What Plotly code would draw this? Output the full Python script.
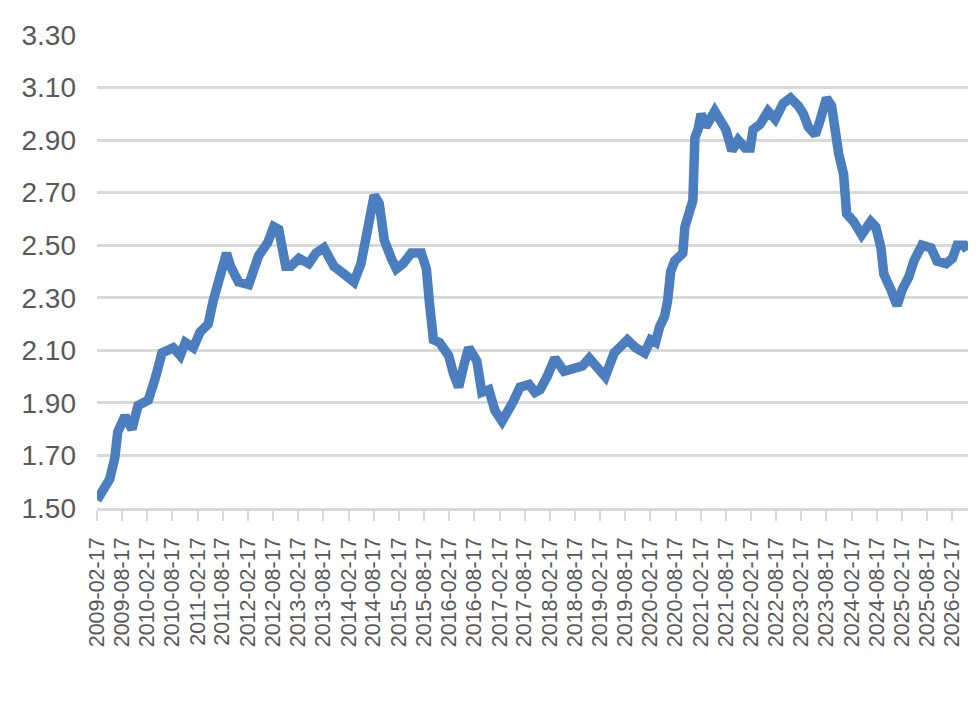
import plotly.graph_objects as go

# readings along the curve (date, value)
dates = [
    "2009-02-17", "2009-04-15", "2009-05-20", "2009-06-26", "2009-07-18", "2009-09-08",
    "2009-10-29", "2009-12-12", "2010-02-24", "2010-04-14", "2010-06-04", "2010-08-24",
    "2010-10-14", "2010-11-20", "2011-01-17", "2011-03-08", "2011-05-05", "2011-06-11",
    "2011-07-17", "2011-08-16", "2011-09-15", "2011-10-14", "2011-12-11", "2012-02-23",
    "2012-03-29", "2012-05-05", "2012-07-10", "2012-08-23", "2012-09-28", "2012-11-18",
    "2012-12-25", "2013-02-22", "2013-05-04", "2013-06-25", "2013-08-22", "2013-09-28",
    "2013-11-03", "2014-01-16", "2014-03-28", "2014-05-18", "2014-07-08", "2014-08-22",
    "2014-09-27", "2014-11-03", "2014-12-24", "2015-01-30", "2015-03-20", "2015-05-18",
    "2015-07-30", "2015-09-05", "2015-09-27", "2015-10-26", "2015-12-09", "2016-02-13",
    "2016-03-20", "2016-04-26", "2016-06-01", "2016-07-08", "2016-09-05", "2016-10-11",
    "2016-12-01", "2017-01-15", "2017-03-07", "2017-04-11", "2017-06-01", "2017-07-15",
    "2017-09-19", "2017-11-02", "2017-12-08", "2018-01-28", "2018-03-26", "2018-05-31",
    "2018-08-12", "2018-10-10", "2018-11-30", "2019-01-28", "2019-03-26", "2019-05-30",
    "2019-09-03", "2019-11-01", "2020-01-06", "2020-02-19", "2020-03-25", "2020-04-24",
    "2020-05-30", "2020-06-21", "2020-07-13", "2020-08-11", "2020-10-09", "2020-10-24",
    "2020-11-29", "2020-12-21", "2021-01-05", "2021-01-27", "2021-02-19", "2021-03-25",
    "2021-05-29", "2021-07-13", "2021-08-18", "2021-10-01", "2021-11-15", "2022-01-05",
    "2022-02-10", "2022-03-03", "2022-04-23", "2022-06-20", "2022-08-10", "2022-10-08",
    "2022-11-29", "2023-01-26", "2023-03-03", "2023-04-08", "2023-05-29", "2023-07-05",
    "2023-08-18", "2023-09-24", "2023-10-08", "2023-11-14", "2023-12-20", "2024-01-11",
    "2024-03-02", "2024-04-29", "2024-07-04", "2024-08-10", "2024-09-16", "2024-10-07",
    "2024-11-28", "2025-01-11", "2025-02-17", "2025-04-07", "2025-05-13", "2025-07-11",
    "2025-09-15", "2025-10-28", "2026-01-02", "2026-02-17", "2026-03-23", "2026-05-13",
    "2026-06-04",
]
values = [
    1.53, 1.59, 1.61, 1.69, 1.79, 1.85,
    1.80, 1.89, 1.91, 1.99, 2.09, 2.11,
    2.08, 2.13, 2.11, 2.17, 2.20, 2.29,
    2.37, 2.41, 2.47, 2.42, 2.36, 2.35,
    2.41, 2.46, 2.51, 2.57, 2.56, 2.42,
    2.42, 2.45, 2.43, 2.47, 2.49, 2.46,
    2.42, 2.39, 2.36, 2.43, 2.57, 2.69,
    2.66, 2.52, 2.45, 2.41, 2.43, 2.47,
    2.47, 2.41, 2.28, 2.14, 2.13, 2.08,
    2.01, 1.96, 2.04, 2.11, 2.06, 1.94,
    1.95, 1.87, 1.83, 1.86, 1.91, 1.96,
    1.97, 1.94, 1.95, 2.00, 2.07, 2.02,
    2.03, 2.04, 2.07, 2.04, 2.00, 2.09,
    2.14, 2.11, 2.09, 2.14, 2.13, 2.19,
    2.23, 2.29, 2.40, 2.44, 2.47, 2.57,
    2.62, 2.67, 2.91, 2.94, 3.00, 2.95,
    3.01, 2.97, 2.94, 2.86, 2.90, 2.87,
    2.87, 2.94, 2.96, 3.01, 2.98, 3.04,
    3.06, 3.03, 3.00, 2.95, 2.92, 2.98,
    3.06, 3.03, 2.96, 2.85, 2.77, 2.62,
    2.59, 2.54, 2.59, 2.57, 2.49, 2.39,
    2.33, 2.27, 2.33, 2.38, 2.44, 2.50,
    2.49, 2.44, 2.43, 2.45, 2.50, 2.50,
    2.48,
]

tick_dates = [
    "2009-02-17", "2009-08-17", "2010-02-17", "2010-08-17", "2011-02-17", "2011-08-17",
    "2012-02-17", "2012-08-17", "2013-02-17", "2013-08-17", "2014-02-17", "2014-08-17",
    "2015-02-17", "2015-08-17", "2016-02-17", "2016-08-17", "2017-02-17", "2017-08-17",
    "2018-02-17", "2018-08-17", "2019-02-17", "2019-08-17", "2020-02-17", "2020-08-17",
    "2021-02-17", "2021-08-17", "2022-02-17", "2022-08-17", "2023-02-17", "2023-08-17",
    "2024-02-17", "2024-08-17", "2025-02-17", "2025-08-17", "2026-02-17",
]
y_ticks = [1.50, 1.70, 1.90, 2.10, 2.30, 2.50, 2.70, 2.90, 3.10, 3.30]

grid_col = "#d9d9d9"
text_col = "#595959"

fig = go.Figure()

fig.add_trace(
    go.Scatter(
        x=dates,
        y=values,
        mode="lines",
        line=dict(color="#4a7ebf", width=9.5),
        showlegend=False,
    )
)

# the page has an 8px body margin, so margins are shifted to keep the plot in place
fig.update_layout(
    width=980,
    height=702,
    margin=dict(l=89, r=20, t=27, b=202),
    paper_bgcolor="white",
    plot_bgcolor="white",
    font=dict(family="Liberation Sans, Arial, sans-serif", color=text_col),
    xaxis=dict(
        type="date",
        range=["2009-02-17", "2026-06-10"],
        tickvals=tick_dates,
        ticktext=tick_dates,
        tickangle=-90,
        tickfont=dict(size=21.5, color=text_col),
        showgrid=False,
        showline=True,
        linecolor=grid_col,
        linewidth=2.5,
        ticks="outside",
        ticklen=10,
        tickwidth=2,
        tickcolor=grid_col,
        zeroline=False,
        automargin=False,
        ticklabelstandoff=8,
    ),
    yaxis=dict(
        range=[1.50, 3.30],
        tickvals=y_ticks,
        tickformat=".2f",
        tickfont=dict(size=28, color=text_col),
        showgrid=True,
        gridcolor=grid_col,
        gridwidth=2.5,
        zeroline=False,
        ticks="",
        ticklabelstandoff=20,
        automargin=False,
    ),
)

fig.write_html("out.html")
